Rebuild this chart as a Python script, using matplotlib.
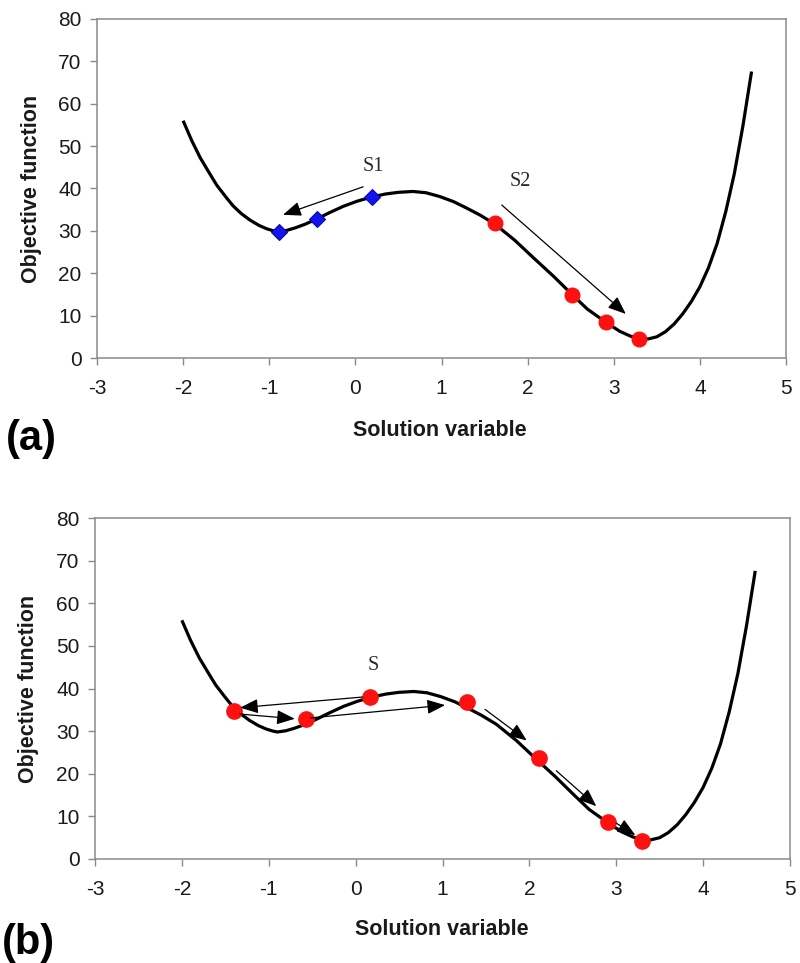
import matplotlib
matplotlib.use("Agg")
import matplotlib.pyplot as plt

# ---------------- data ----------------
curve_x = [-2.00, -1.90, -1.80, -1.70, -1.61, -1.50, -1.42, -1.32, -1.22, -1.12,
           -1.03, -0.95, -0.90, -0.80, -0.70, -0.58, -0.45, -0.30, -0.14, 0.02,
           0.19, 0.35, 0.50, 0.67, 0.82, 0.98, 1.14, 1.29, 1.45, 1.62,
           1.85, 2.07, 2.30, 2.51, 2.69, 2.91, 3.07, 3.20, 3.30, 3.40,
           3.50, 3.60, 3.70, 3.80, 3.90, 4.00, 4.10, 4.20, 4.30, 4.40,
           4.50, 4.60]
curve_y = [56.0, 51.3, 47.2, 43.8, 40.8, 37.9, 35.9, 34.0, 32.5, 31.3,
           30.5, 30.0, 29.8, 30.1, 30.7, 31.6, 32.8, 34.3, 35.8, 37.0,
           38.0, 38.7, 39.1, 39.3, 39.0, 38.1, 36.9, 35.4, 33.7, 31.6,
           27.8, 23.6, 19.3, 15.1, 11.6, 8.4, 6.3, 5.1, 4.6, 4.5,
           5.0, 6.2, 8.0, 10.4, 13.3, 16.8, 21.3, 27.0, 34.5, 43.5,
           54.8, 67.6]

# panel (a): S1 (blue diamonds) and S2 (red circles)
s1_x = [-0.89, -0.45, 0.19]
s1_y = [29.8, 32.8, 37.9]
s2_x = [1.62, 2.51, 2.91, 3.29]
s2_y = [31.9, 14.9, 8.6, 4.4]

# panel (b): S (red circles)
s_x = [-1.40, -0.57, 0.16, 1.28, 2.11, 2.90, 3.30]
s_y = [34.8, 32.9, 37.9, 36.9, 23.6, 8.6, 4.3]

# arrows: (x_start, y_start, x_end, y_end)
arrows_a = [(0.09, 40.4, -0.84, 33.8),
            (1.70, 36.1, 3.14, 10.4)]
arrows_b = [(0.08, 38.0, -1.33, 35.5),
            (-1.33, 34.0, -0.70, 32.9),
            (-0.52, 33.1, 1.03, 36.1),
            (1.49, 35.1, 1.97, 27.8),
            (2.31, 20.7, 2.77, 12.4),
            (3.00, 8.4, 3.22, 5.6)]

labels_a = [("S1", 0.21, 45.2), ("S2", 1.92, 41.6)]
labels_b = [("S", 0.20, 45.5)]

xticks = [-3, -2, -1, 0, 1, 2, 3, 4, 5]
yticks = [0, 10, 20, 30, 40, 50, 60, 70, 80]

# ---------------- figure ----------------
W, H = 800, 963
fig = plt.figure(figsize=(W / 100, H / 100), dpi=100)
plt.rcParams['font.family'] = ['Liberation Sans', 'DejaVu Sans']

def px_axes(l, t, r, b):
    return fig.add_axes([l / W, 1 - b / H, (r - l) / W, (b - t) / H])

ax_a = px_axes(97, 19, 786, 358)
ax_b = px_axes(95, 518, 790, 859)

GRAY = '#8a8a8a'

def style(ax):
    ax.set_xlim(-3, 5)
    ax.set_ylim(0, 80)
    ax.set_xticks(xticks)
    ax.set_yticks(yticks)
    ax.set_xticklabels([str(v) for v in xticks])
    ax.set_yticklabels([str(v) for v in yticks])
    for sp in ax.spines.values():
        sp.set_color(GRAY)
        sp.set_linewidth(1.1)
    ax.tick_params(axis='both', direction='out', length=5, width=1.0,
                   color=GRAY, labelcolor='#1a1a1a', labelsize=15)
    ax.tick_params(axis='x', pad=10)
    ax.tick_params(axis='y', pad=6)
    ax.plot(curve_x, curve_y, color='black', lw=2.3,
            solid_joinstyle='round', solid_capstyle='butt', zorder=2)

def draw_arrows(ax, arrows):
    for (x0, y0, x1, y1) in arrows:
        ax.annotate('', xy=(x1, y1), xytext=(x0, y0),
                    arrowprops=dict(arrowstyle='-|>,head_length=0.55,head_width=0.22',
                                    lw=0.9, color='black', shrinkA=0, shrinkB=0,
                                    mutation_scale=20),
                    zorder=4)

style(ax_a)
style(ax_b)

ax_a.plot(s1_x, s1_y, linestyle='none', marker='D', ms=8.5,
          markerfacecolor='#1414f0', markeredgecolor='#0a0aa0', markeredgewidth=0.8, zorder=3)
ax_a.plot(s2_x, s2_y, linestyle='none', marker='o', ms=10.5,
          markerfacecolor='#ff1010', markeredgecolor='#ff1010', zorder=3)
ax_b.plot(s_x, s_y, linestyle='none', marker='o', ms=11,
          markerfacecolor='#ff1010', markeredgecolor='#ff1010', zorder=3)

draw_arrows(ax_a, arrows_a)
draw_arrows(ax_b, arrows_b)

for txt, x, y in labels_a:
    ax_a.text(x, y, txt, ha='center', va='center', fontsize=14.5,
              family=['Liberation Serif', 'DejaVu Serif'], color='#2a2a2a')
for txt, x, y in labels_b:
    ax_b.text(x, y, txt, ha='center', va='center', fontsize=14.5,
              family=['Liberation Serif', 'DejaVu Serif'], color='#2a2a2a')

# axis titles and panel letters
def ftext(x, y, s, **kw):
    fig.text(x / W, 1 - y / H, s, **kw)

ftext(32, 188.5, 'Objective function', rotation=90, ha='center', va='center',
      fontsize=15.5, fontweight='bold', color='#1a1a1a')
ftext(29, 688.5, 'Objective function', rotation=90, ha='center', va='center',
      fontsize=15.5, fontweight='bold', color='#1a1a1a')
ftext(440, 430, 'Solution variable', ha='center', va='center',
      fontsize=15.5, fontweight='bold', color='#1a1a1a')
ftext(442, 929, 'Solution variable', ha='center', va='center',
      fontsize=15.5, fontweight='bold', color='#1a1a1a')
ftext(6, 439, '(a)', ha='left', va='center', fontsize=30, fontweight='bold', color='black')
ftext(2, 943, '(b)', ha='left', va='center', fontsize=30, fontweight='bold', color='black')

fig.savefig('out.png', dpi=100)
